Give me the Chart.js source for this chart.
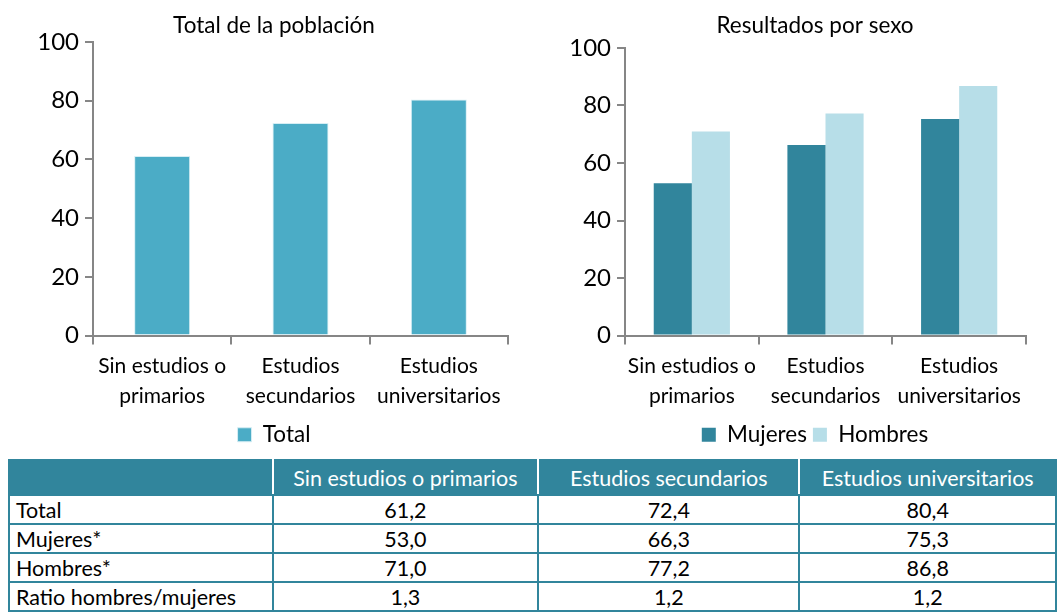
<!DOCTYPE html>
<html>
<head>
<meta charset="utf-8">
<script src="https://cdn.jsdelivr.net/npm/chart.js@4.4.1/dist/chart.umd.min.js"></script>
<style>
  body { margin: 0; background: #fff; width: 1057px; height: 614px; overflow: hidden; position: relative; font-family: Lato, "Open Sans", sans-serif; }
  .box { position: absolute; }
  #leftBox { left: 0; top: 0; width: 530px; height: 456px; }
  #rightBox { left: 540px; top: 0; width: 517px; height: 456px; }
  table { position: absolute; left: 8px; top: 459px; border-collapse: collapse; font-family: Lato, sans-serif; font-size: 21.5px; color: #000; }
  td, th { border: 2px solid #31859c; height: 27px; padding: 0 6px; white-space: nowrap; }
  th { background: #31859c; color: #fff; font-weight: normal; height: 33px; border-left-color: #fff; border-right-color: #fff; }
  th:first-child { border-left-color: #31859c; }
  th:last-child { border-right-color: #31859c; }
  td { text-align: center; }
  td:first-child { text-align: left; }
</style>
</head>
<body>
<div class="box" id="leftBox"><canvas id="leftChart"></canvas></div>
<div class="box" id="rightBox"><canvas id="rightChart"></canvas></div>
<table id="dataTable"></table>
<script>
const categories = [['Sin estudios o', 'primarios'], ['Estudios', 'secundarios'], ['Estudios', 'universitarios']];
const tableHeaders = ['Sin estudios o primarios', 'Estudios secundarios', 'Estudios universitarios'];
const totalValues = [61.2, 72.4, 80.4];
const mujeresValues = [53.0, 66.3, 75.3];
const hombresValues = [71.0, 77.2, 86.8];
const ratioValues = [1.3, 1.2, 1.2];

const axisColor = '#868686';
const fontFamily = 'Lato, "Open Sans", sans-serif';

// leftPad + yWidth = position of the y axis inside the canvas
function makeOptions(title, leftPad, yWidth, rightPad, titleBottom) {
  return {
    responsive: true,
    maintainAspectRatio: false,
    animation: false,
    layout: { padding: { top: 0, right: rightPad, bottom: 0, left: leftPad } },
    plugins: {
      title: {
        display: true, text: title, color: '#000',
        font: { family: fontFamily, size: 22.5, weight: 'normal' },
        padding: { top: 12, bottom: titleBottom }
      },
      legend: {
        position: 'bottom',
        labels: {
          color: '#000', boxWidth: 14, boxHeight: 14, padding: 6,
          font: { family: fontFamily, size: 22.5 }
        }
      },
      tooltip: { enabled: false }
    },
    scales: {
      x: {
        offset: true,
        grid: { offset: true, drawOnChartArea: false, drawTicks: true, tickLength: 9, color: axisColor, lineWidth: 2 },
        border: { color: axisColor, width: 2 },
        ticks: { color: '#000', font: { family: fontFamily, size: 21, lineHeight: 1.43 }, maxRotation: 0, padding: 7 },
        afterFit: s => { s.height = 82; }
      },
      y: {
        min: 0, max: 100,
        grid: { drawOnChartArea: false, drawTicks: true, tickLength: 8, color: axisColor, lineWidth: 2 },
        border: { color: axisColor, width: 2 },
        ticks: { stepSize: 20, color: '#000', font: { family: fontFamily, size: 24 }, padding: 6 },
        afterFit: s => {
          s.width = yWidth;
          // the axis is narrower than its labels, don't clip them
          s._computeLabelArea = () => null;
        }
      }
    }
  };
}

new Chart(document.getElementById('leftChart'), {
  type: 'bar',
  data: {
    labels: categories,
    datasets: [{
      label: 'Total', data: totalValues,
      backgroundColor: '#4bacc6', borderColor: '#d6eef4', borderWidth: 1,
      categoryPercentage: 1, barPercentage: 0.405
    }]
  },
  options: makeOptions('Total de la población', 40, 53, 22, 3)
});

new Chart(document.getElementById('rightChart'), {
  type: 'bar',
  data: {
    labels: categories,
    datasets: [
      { label: 'Mujeres', data: mujeresValues, backgroundColor: '#31859c', categoryPercentage: 0.57, barPercentage: 1 },
      { label: 'Hombres', data: hombresValues, backgroundColor: '#b7dee8', categoryPercentage: 0.57, barPercentage: 1 }
    ]
  },
  options: makeOptions('Resultados por sexo', 64, 21, 31, 9)
});

// table built from the same arrays
const fmt = v => v.toFixed(1).replace('.', ',');
const colWidths = [250, 252, 248, 243];
let html = '<tr><th style="width:' + colWidths[0] + 'px"></th>' +
  tableHeaders.map((h, i) => '<th style="width:' + colWidths[i + 1] + 'px">' + h + '</th>').join('') + '</tr>';
const rows = [['Total', totalValues], ['Mujeres*', mujeresValues], ['Hombres*', hombresValues], ['Ratio hombres/mujeres', ratioValues]];
rows.forEach(r => {
  html += '<tr><td>' + r[0] + '</td>' + r[1].map(v => '<td>' + fmt(v) + '</td>').join('') + '</tr>';
});
document.getElementById('dataTable').innerHTML = html;
</script>
</body>
</html>
